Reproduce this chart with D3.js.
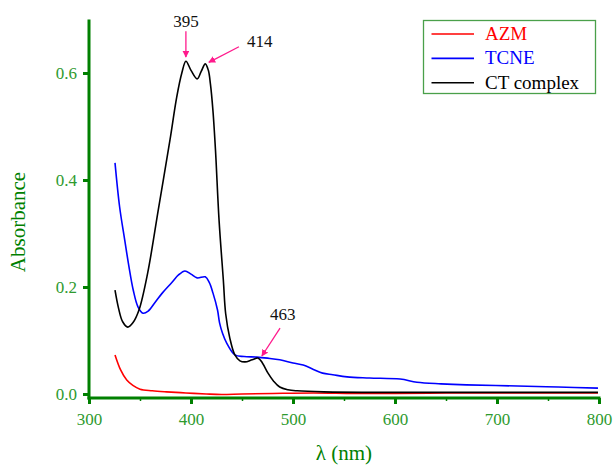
<!DOCTYPE html>
<html>
<head>
<meta charset="utf-8">
<script src="https://cdn.jsdelivr.net/npm/d3@7"></script>
<style>
  body { margin: 0; background: #fff; }
</style>
</head>
<body>
<svg class="chart" width="615" height="466"></svg>
<script>
// spectra: [wavelength nm, absorbance]
const AZM = [
    [325.5, 0.073], [331, 0.045], [337, 0.026], [343, 0.016], [350, 0.009], [362, 0.006],
    [376, 0.004], [395, 0.002], [415, 0.000], [430, -0.001], [450, 0.000], [480, 0.001],
    [520, 0.002], [560, 0.001], [600, 0.001], [650, 0.002], [700, 0.002], [750, 0.002], [799, 0.002]
];
const TCNE = [
    [325.5, 0.432], [330, 0.350], [335, 0.288], [339, 0.240], [343.4, 0.194], [348, 0.163],
    [353, 0.151], [358, 0.155], [364.7, 0.171], [372, 0.189], [381, 0.208], [388, 0.223],
    [394, 0.230], [400, 0.224], [406, 0.217], [414, 0.219], [418, 0.208], [421.5, 0.189],
    [426, 0.157], [428, 0.133], [431, 0.113], [435, 0.095], [443, 0.073], [452, 0.070],
    [464.5, 0.069], [475, 0.067], [487, 0.064], [500, 0.058], [510, 0.054], [520, 0.046],
    [529, 0.039], [539, 0.036], [553, 0.032], [575, 0.030], [605, 0.028], [621.5, 0.022],
    [645, 0.019], [670, 0.017], [720, 0.015], [760, 0.013], [799, 0.011]
];
const CT = [
    [325.5, 0.194], [329, 0.160], [333, 0.135], [338, 0.125], [343, 0.133], [349, 0.157],
    [357.5, 0.226], [368, 0.345], [379.4, 0.475], [386, 0.555], [391, 0.600], [395, 0.622],
    [400, 0.605], [406, 0.589], [410, 0.603], [414, 0.617], [417, 0.605], [419, 0.580],
    [421.5, 0.530], [424, 0.456], [427.5, 0.325], [431.7, 0.213], [434, 0.150], [438, 0.105],
    [443, 0.073], [448, 0.062], [453, 0.060], [460, 0.064], [466, 0.067], [470, 0.058],
    [475.5, 0.039], [481, 0.024], [487, 0.013], [495, 0.008], [504, 0.006], [530, 0.004],
    [600, 0.003], [700, 0.003], [799, 0.003]
];

const SERIES = [
    { name: 'AZM', color: '#ff0000', values: AZM },
    { name: 'TCNE', color: '#0000ff', values: TCNE },
    { name: 'CT complex', color: '#000000', values: CT }
];

const X_TICKS = [300, 400, 500, 600, 700, 800];
const X_MINOR = [350, 450, 550, 650, 750];
const Y_TICKS = [0.0, 0.2, 0.4, 0.6];

// peak labels: [label, text x, text y, arrow from x, from y, to x, to y] in data units
const PEAKS = [
    ['395', 395, 0.686, 395, 0.678, 395, 0.630],
    ['414', 455, 0.649, 447, 0.649, 417.5, 0.620],
    ['463', 490, 0.138, 487.3, 0.123, 469.5, 0.071]
];

const FONT = '"Liberation Serif", "Times New Roman", Times, serif';
const AXIS_GREEN = '#008000';
const LABEL_GREEN = '#2e9a2e';
const PINK = '#ff1a8c';

const svg = d3.select('svg.chart');

const x = d3.scaleLinear().domain([300, 800]).range([89, 599]);
const y = d3.scaleLinear().domain([0, 0.7]).range([394, 19.5]);

const defs = svg.append('defs');
defs.append('marker')
    .attr('id', 'arrowhead')
    .attr('viewBox', '0 0 10 10')
    .attr('refX', 9).attr('refY', 5)
    .attr('markerWidth', 7).attr('markerHeight', 7)
    .attr('markerUnits', 'userSpaceOnUse')
    .attr('orient', 'auto')
    .append('path')
        .attr('d', 'M0,0 L10,5 L0,10 Z')
        .attr('fill', PINK);

// curves
const line = d3.line()
    .x(d => x(d[0]))
    .y(d => y(d[1]))
    .curve(d3.curveCatmullRom.alpha(0.5));

svg.append('g')
    .selectAll('path')
    .data(SERIES)
    .enter().append('path')
        .attr('d', s => line(s.values))
        .attr('fill', 'none')
        .attr('stroke', s => s.color)
        .attr('stroke-width', 1.6);

// axes
const yBase = 398;

const xAxis = svg.append('g')
    .attr('transform', 'translate(0,' + yBase + ')')
    .call(d3.axisBottom(x).tickValues(X_TICKS).tickFormat(d3.format('d')).tickSize(6).tickPadding(9));

svg.append('g')
    .attr('transform', 'translate(0,' + yBase + ')')
    .call(d3.axisBottom(x).tickValues(X_MINOR).tickFormat('').tickSize(3))
    .call(g => g.select('.domain').remove())
    .selectAll('line').attr('stroke', AXIS_GREEN).attr('stroke-width', 1.5);

const yAxis = svg.append('g')
    .attr('transform', 'translate(89,0)')
    .call(d3.axisLeft(y).tickValues(Y_TICKS).tickFormat(d3.format('.1f')).tickSize(6).tickPadding(6));

[xAxis, yAxis].forEach(g => {
    g.attr('font-family', FONT);
    g.select('.domain').remove();
    g.selectAll('.tick line').attr('stroke', AXIS_GREEN).attr('stroke-width', 3);
    g.selectAll('.tick text')
        .attr('fill', LABEL_GREEN)
        .style('font-family', FONT)
        .style('font-size', '17px');
});

// thick axis lines
svg.append('line')
    .attr('x1', 89).attr('x2', 89)
    .attr('y1', y(0.7)).attr('y2', yBase + 1.5)
    .attr('stroke', AXIS_GREEN).attr('stroke-width', 3);
svg.append('line')
    .attr('x1', 87.5).attr('x2', x(800) + 1.5)
    .attr('y1', yBase).attr('y2', yBase)
    .attr('stroke', AXIS_GREEN).attr('stroke-width', 3);

// axis titles
svg.append('text')
    .attr('x', 344).attr('y', 460)
    .attr('text-anchor', 'middle')
    .attr('fill', AXIS_GREEN)
    .style('font-family', FONT)
    .style('font-size', '21px')
    .text('λ (nm)');

svg.append('text')
    .attr('transform', 'translate(25,222) rotate(-90)')
    .attr('text-anchor', 'middle')
    .attr('fill', AXIS_GREEN)
    .style('font-family', FONT)
    .style('font-size', '21px')
    .text('Absorbance');

// peak annotations
const ann = svg.append('g');
ann.selectAll('line')
    .data(PEAKS)
    .enter().append('line')
        .attr('x1', p => x(p[3])).attr('y1', p => y(p[4]))
        .attr('x2', p => x(p[5])).attr('y2', p => y(p[6]))
        .attr('stroke', PINK).attr('stroke-width', 1.3)
        .attr('marker-end', 'url(#arrowhead)');
ann.selectAll('text')
    .data(PEAKS)
    .enter().append('text')
        .attr('x', p => x(p[1])).attr('y', p => y(p[2]))
        .attr('text-anchor', (p, i) => i === 1 ? 'start' : 'middle')
        .attr('fill', '#111')
        .style('font-family', FONT)
        .style('font-size', '17px')
        .text(p => p[0]);

// legend
const legend = svg.append('g');
legend.append('rect')
    .attr('x', 423.5).attr('y', 20.5)
    .attr('width', 172).attr('height', 73)
    .attr('fill', '#fff')
    .attr('stroke', '#4aa04a').attr('stroke-width', 1.3);

const items = legend.selectAll('g.item')
    .data(SERIES)
    .enter().append('g')
        .attr('class', 'item')
        .attr('transform', (s, i) => 'translate(0,' + (34 + i * 24.4) + ')');
items.append('line')
    .attr('x1', 431.5).attr('x2', 474)
    .attr('stroke', s => s.color).attr('stroke-width', 1.6);
items.append('text')
    .attr('x', 485).attr('y', 6)
    .attr('fill', s => s.color)
    .style('font-family', FONT)
    .style('font-size', '19px')
    .text(s => s.name);
</script>
</body>
</html>
